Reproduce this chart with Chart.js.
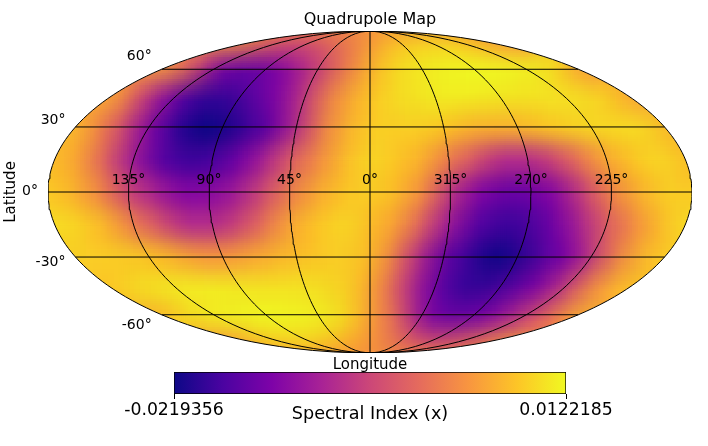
<!DOCTYPE html>
<html>
<head>
<meta charset="utf-8">
<style>
  body { margin: 0; background: #fff; }
  #wrap { position: relative; width: 708px; height: 446px; }
  canvas { position: absolute; left: 0; }
</style>
<script src="https://cdn.jsdelivr.net/npm/chart.js@4"></script>
</head>
<body>
<div id="wrap">
  <canvas id="map" width="708" height="446" style="top:0"></canvas>
  <canvas id="bar" width="708" height="76" style="top:370px"></canvas>
</div>
<script>
// map columns, left edge to right edge (negative = 345, 330 ... on the label ring)
const lonColumns = [180,165,150,135,120,105,90,75,60,45,30,15,0,-15,-30,-45,-60,-75,-90,-105,-120,-135,-150,-165,-180];
const latRows = [90,-90,75,-75,60,-60,45,-45,30,-30,15,-15,0];

// values, one list per latitude
const lat90 = Array(25).fill(0.0035);
const lat75 = [.0040,.0025,.0006,-.0008,-.0025,-.0038,-.0038,-.0030,-.0018,-.0005,.0010,.0025,.0045,.0061,.0074,.0085,.0088,.0091,.0091,.0088,.0081,.0071,.0061,.0047,.0040];
const lat60 = [.0045,.0015,-.0040,-.0117,-.0147,-.0151,-.0144,-.0124,-.0089,-.0055,-.0014,.0027,.0064,.0088,.0105,.0112,.0119,.0122,.0122,.0122,.0120,.0115,.0108,.0088,.0045];
const lat45 = [.0054,-.0005,-.0085,-.0144,-.0185,-.0192,-.0178,-.0151,-.0117,-.0059,.0013,.0054,.0081,.0098,.0105,.0112,.0112,.0112,.0108,.0105,.0105,.0105,.0098,.0088,.0054];
const lat30 = [.0071,.0020,-.0049,-.0127,-.0185,-.0219,-.0212,-.0185,-.0151,-.0076,.0013,.0061,.0088,.0088,.0088,.0081,.0064,.0061,.0064,.0078,.0088,.0095,.0098,.0098,.0071];
const lat15 = [.0074,.0047,-.0021,-.0100,-.0161,-.0185,-.0178,-.0144,-.0089,-.0021,.0027,.0071,.0095,.0081,.0061,.0013,-.0031,-.0076,-.0076,-.0049,.0003,.0054,.0081,.0095,.0074];
const lat0 = [.0085,.0064,.0020,-.0049,-.0089,-.0127,-.0123,-.0096,-.0042,.0013,.0054,.0081,.0088,.0071,.0027,-.0066,-.0124,-.0151,-.0144,-.0117,-.0049,.0020,.0061,.0088,.0085];
const latM15 = [.0100,.0090,.0065,.0013,-.0031,-.0076,-.0076,-.0049,.0003,.0054,.0081,.0095,.0074,.0047,-.0021,-.0100,-.0161,-.0185,-.0178,-.0144,-.0089,-.0021,.0027,.0071,.0100];
const latM30 = [.0088,.0088,.0085,.0078,.0061,.0040,.0037,.0050,.0064,.0075,.0085,.0088,.0071,.0013,-.0076,-.0151,-.0185,-.0219,-.0202,-.0168,-.0134,-.0066,.0013,.0064,.0088];
const latM45 = [.0081,.0098,.0105,.0112,.0112,.0112,.0108,.0105,.0105,.0105,.0098,.0088,.0054,-.0005,-.0085,-.0144,-.0185,-.0192,-.0178,-.0151,-.0117,-.0059,.0013,.0054,.0081];
const latM60 = [.0064,.0088,.0105,.0112,.0119,.0122,.0122,.0122,.0120,.0115,.0108,.0088,.0045,.0015,-.0040,-.0117,-.0147,-.0151,-.0144,-.0124,-.0089,-.0055,-.0014,.0027,.0064];
const latM75 = [.0045,.0061,.0074,.0085,.0088,.0091,.0091,.0088,.0081,.0071,.0061,.0047,.0040,.0025,.0006,-.0008,-.0025,-.0038,-.0038,-.0030,-.0018,-.0005,.0010,.0025,.0045];
const latM90 = Array(25).fill(0.0035);

const rowValues = {
  '0': lat0, '15': lat15, '-15': latM15, '30': lat30, '-30': latM30, '45': lat45, '-45': latM45,
  '60': lat60, '-60': latM60, '75': lat75, '-75': latM75, '90': lat90, '-90': latM90
};

const latTicks = [60, 30, 0, -30, -60];
const lonTicks = [135, 90, 45, 0, 315, 270, 225];
const colorRange = [-0.0219356, 0.0122185];
const colorRangeLabels = ['-0.0219356', '0.0122185'];
const plasma = ['#0d0887','#4b03a1','#7e03a8','#a82296','#cc4778','#e56b5d','#f89540','#fdc527','#f0f921'];

const FONT = '"DejaVu Sans"';
const TITLE = 'Quadrupole Map';

// mollweide, x in -2..2 and y in -1..1
function project(lat, lon) {
  const phi = lat * Math.PI / 180;
  let t = phi;
  if (Math.abs(lat) < 90) {
    for (let i = 0; i < 30; i++) {
      t -= (2 * t + Math.sin(2 * t) - Math.PI * Math.sin(phi)) / (2 + 2 * Math.cos(2 * t));
    }
  }
  return { x: -2 * lon / 180 * Math.cos(t), y: Math.sin(t) };
}

function plasmaColor(v) {
  const f = Math.min(1, Math.max(0, (v - colorRange[0]) / (colorRange[1] - colorRange[0]))) * (plasma.length - 1);
  const i = Math.min(plasma.length - 2, Math.floor(f));
  const hex = s => [1, 3, 5].map(k => parseInt(s.substr(k, 2), 16));
  const a = hex(plasma[i]), b = hex(plasma[i + 1]);
  const c = a.map((n, k) => Math.round(n + (b[k] - n) * (f - i)));
  return `rgb(${c[0]},${c[1]},${c[2]})`;
}

// edge cells go first and are wide, so the smoothing has colour to take from past the outline
const cells = [];
latRows.forEach(lat => {
  const row = lonColumns.map((lon, i) => {
    const p = project(lat, lon);
    return { x: p.x, y: p.y, v: rowValues[lat][i], lat: lat, edge: Math.abs(lon) === 180 };
  });
  cells.push(...row.filter(c => c.edge), ...row.filter(c => !c.edge));
});

// one map cell as a small canvas, as wide as 15 degrees at its latitude
function cellImage(c) {
  const raw = c.raw, xs = c.chart.scales.x;
  const step = xs.getPixelForValue(-project(raw.lat, 15).x) - xs.getPixelForValue(0);
  const im = document.createElement('canvas');
  im.width = Math.abs(raw.lat) === 90 ? 260 : Math.ceil(step) + (raw.edge ? 60 : 1);
  im.height = 30;
  const o = im.getContext('2d');
  o.fillStyle = plasmaColor(raw.v);
  o.fillRect(0, 0, im.width, im.height);
  return im;
}

function meridian(lon) {
  const pts = [];
  for (let lat = -90; lat <= 90; lat += 2) pts.push(project(lat, lon));
  return pts;
}

const lineStyle = { type: 'scatter', showLine: true, pointRadius: 0, borderColor: '#000', borderWidth: 1, order: 1, tension: 0 };
const gratLines = [];
[180, 135, 90, 45, 0, -45, -90, -135, -180].forEach(lon => gratLines.push({ ...lineStyle, data: meridian(lon) }));
latTicks.forEach(lat => gratLines.push({ ...lineStyle, data: [project(lat, 180), project(lat, -180)] }));

// averages the canvas with shifted copies of itself
function softened(src, passes) {
  let a = src;
  passes.forEach(([dx, dy]) => {
    const b = document.createElement('canvas');
    b.width = src.width;
    b.height = src.height;
    const o = b.getContext('2d');
    o.drawImage(a, -dx, -dy);
    o.globalAlpha = 0.5;
    o.drawImage(a, dx, dy);
    a = b;
  });
  return a;
}

// smooths the coarse cells and trims them to the map outline
const smoothMap = {
  id: 'smoothMap',
  afterDatasetDraw(chart, args) {
    if (args.index !== 0) return;
    const ctx = chart.ctx, area = chart.chartArea;
    const soft = softened(chart.canvas, [[8,0],[0,8],[5,0],[0,5],[3,0],[0,3],[2,0],[0,2],[1,0],[0,1]]);
    ctx.save();
    ctx.setTransform(1, 0, 0, 1, 0, 0);
    ctx.drawImage(soft, 0, 0);
    ctx.fillStyle = '#fff';
    ctx.beginPath();
    ctx.rect(0, 0, chart.width, chart.height);
    ctx.ellipse((area.left + area.right) / 2, (area.top + area.bottom) / 2, area.width / 2, area.height / 2, 0, 0, Math.PI * 2);
    ctx.fill('evenodd');
    ctx.restore();
  }
};

const mapLabels = {
  id: 'mapLabels',
  afterDatasetsDraw(chart) {
    const ctx = chart.ctx, xs = chart.scales.x, ys = chart.scales.y;
    ctx.save();
    ctx.fillStyle = '#000';
    ctx.textBaseline = 'middle';
    ctx.textAlign = 'center';
    ctx.font = '16px ' + FONT;
    ctx.fillText(TITLE, xs.getPixelForValue(0), 20);
    ctx.font = '14px ' + FONT;
    lonTicks.forEach(lon => {
      const p = project(0, lon > 180 ? lon - 360 : lon);
      ctx.fillText(lon + '°', xs.getPixelForValue(p.x), ys.getPixelForValue(0) - 12);
    });
    ctx.textAlign = 'right';
    latTicks.forEach(lat => {
      const p = project(lat, 180);
      ctx.fillText(lat + '°', xs.getPixelForValue(p.x) - 10, ys.getPixelForValue(p.y) - lat * 0.2 - 1);
    });
    ctx.restore();
  }
};

new Chart(document.getElementById('map'), {
  type: 'scatter',
  data: {
    datasets: [{
      data: cells,
      order: 2,
      clip: false,
      borderWidth: 0,
      pointRadius: 1,
      pointStyle: c => c.raw ? cellImage(c) : 'rect'
    }, ...gratLines]
  },
  plugins: [smoothMap, mapLabels],
  options: {
    responsive: false,
    animation: false,
    events: [],
    layout: { padding: { right: 16, top: 31 } },
    plugins: {
      legend: { display: false },
      tooltip: { enabled: false }
    },
    scales: {
      x: {
        min: -2, max: 2,
        grid: { display: false, z: 1 }, border: { display: false },
        ticks: { display: false },
        title: { display: true, text: 'Longitude', color: '#000', font: { family: FONT, size: 15 }, padding: { top: 0, bottom: 72 } },
        afterFit(s) { s.height = 93; s.paddingLeft = 0; s.paddingRight = 0; }
      },
      y: {
        min: -1, max: 1,
        grid: { display: false, z: 1 }, border: { display: false },
        ticks: { display: false },
        title: { display: true, text: 'Latitude', color: '#000', font: { family: FONT, size: 15 }, padding: { top: 2, bottom: 0 } },
        afterFit(s) { s.width = 48; s.paddingTop = 0; s.paddingBottom = 0; }
      }
    }
  }
});

new Chart(document.getElementById('bar'), {
  type: 'bar',
  data: {
    labels: [''],
    datasets: [{
      data: [colorRange],
      barPercentage: 1,
      categoryPercentage: 1,
      borderColor: '#000',
      borderWidth: 1,
      borderSkipped: false,
      backgroundColor(c) {
        const area = c.chart.chartArea;
        if (!area) return plasma[0];
        const g = c.chart.ctx.createLinearGradient(area.left, 0, area.right, 0);
        plasma.forEach((col, i) => g.addColorStop(i / (plasma.length - 1), col));
        return g;
      }
    }]
  },
  options: {
    responsive: false,
    animation: false,
    events: [],
    indexAxis: 'y',
    layout: { padding: { left: 174, right: 142, top: 2 } },
    plugins: { legend: { display: false }, tooltip: { enabled: false } },
    scales: {
      y: { display: false },
      x: {
        min: colorRange[0], max: colorRange[1],
        grid: { display: true, drawOnChartArea: false, color: '#000', tickLength: 5 },
        border: { display: false },
        afterBuildTicks(s) { s.ticks = colorRange.map(v => ({ value: v })); },
        afterFit(s) { s.paddingLeft = 0; s.paddingRight = 0; s.height = 52; },
        ticks: {
          autoSkip: false, maxRotation: 0, color: '#000', padding: 1,
          font: { family: FONT, size: 17.3 },
          callback: (v, i) => colorRangeLabels[i]
        },
        title: {
          display: true, text: 'Spectral Index (x)', color: '#000',
          font: { family: FONT, size: 17.6 }, padding: { top: 0, bottom: 21 }
        }
      }
    }
  }
});
</script>
</body>
</html>
